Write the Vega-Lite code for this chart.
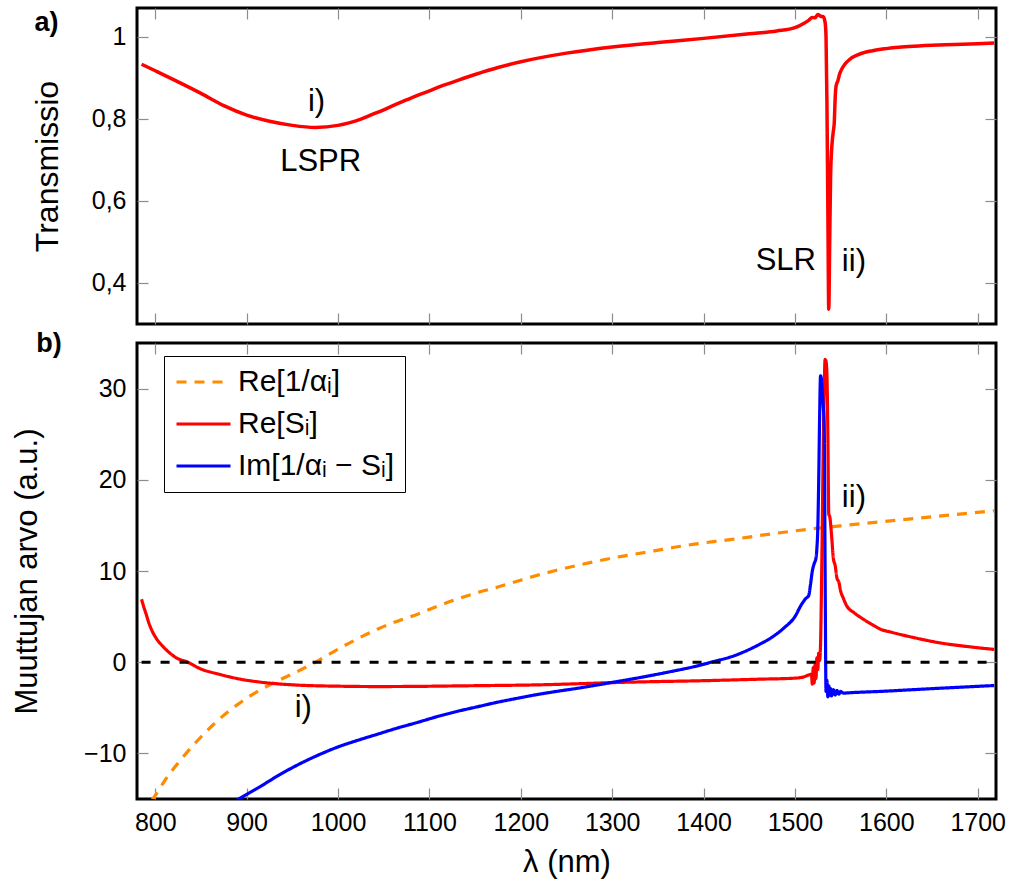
{
  "$schema": "https://vega.github.io/schema/vega-lite/v6.json",
  "background": "white",
  "padding": {"left": 10, "top": 5, "right": 5, "bottom": 5},
  "config": {
    "font": "Liberation Sans",
    "view": {"stroke": "black", "strokeWidth": 3},
    "axis": {"grid": false, "domain": false, "ticks": true, "tickColor": "#8c8c8c", "tickWidth": 1.2, "tickSize": -11, "labelFontSize": 25, "labelColor": "black", "labelPadding": 22, "titleFontSize": 31, "titleFontWeight": "normal", "titleColor": "black", "labelFont": "Liberation Sans", "titleFont": "Liberation Sans"},
    "text": {"font": "Liberation Sans", "fontSize": 31}
  },
  "spacing": 19,
  "bounds": "flush",
  "vconcat": [
    {
      "width": 859,
      "height": 316,
      "layer": [
        {
          "data": {"values": [
            {"lam": 785, "T": 0.933}, {"lam": 800, "T": 0.917}, {"lam": 825, "T": 0.890}, {"lam": 850, "T": 0.862},
            {"lam": 875, "T": 0.832}, {"lam": 900, "T": 0.809}, {"lam": 925, "T": 0.794}, {"lam": 950, "T": 0.784},
            {"lam": 975, "T": 0.779}, {"lam": 1000, "T": 0.784}, {"lam": 1012, "T": 0.790}, {"lam": 1025, "T": 0.799},
            {"lam": 1037, "T": 0.810}, {"lam": 1050, "T": 0.822}, {"lam": 1062, "T": 0.834}, {"lam": 1075, "T": 0.846},
            {"lam": 1087, "T": 0.857}, {"lam": 1100, "T": 0.868}, {"lam": 1112, "T": 0.879}, {"lam": 1125, "T": 0.889},
            {"lam": 1150, "T": 0.908},
            {"lam": 1175, "T": 0.925}, {"lam": 1200, "T": 0.939}, {"lam": 1250, "T": 0.960}, {"lam": 1300, "T": 0.975},
            {"lam": 1350, "T": 0.986}, {"lam": 1400, "T": 0.996}, {"lam": 1450, "T": 1.007}, {"lam": 1480, "T": 1.014},
            {"lam": 1500, "T": 1.022}, {"lam": 1510, "T": 1.033}, {"lam": 1515, "T": 1.040}, {"lam": 1519, "T": 1.047},
            {"lam": 1522, "T": 1.046}, {"lam": 1525, "T": 1.054}, {"lam": 1528, "T": 1.050}, {"lam": 1531, "T": 1.049},
            {"lam": 1533, "T": 1.035}, {"lam": 1534, "T": 1.0}, {"lam": 1535, "T": 0.84}, {"lam": 1536, "T": 0.58},
            {"lam": 1537, "T": 0.336}, {"lam": 1538, "T": 0.50}, {"lam": 1539, "T": 0.66}, {"lam": 1540, "T": 0.72},
            {"lam": 1541, "T": 0.75}, {"lam": 1542, "T": 0.77}, {"lam": 1543, "T": 0.79}, {"lam": 1544, "T": 0.85},
            {"lam": 1545, "T": 0.88}, {"lam": 1547, "T": 0.893}, {"lam": 1549, "T": 0.91}, {"lam": 1551, "T": 0.92},
            {"lam": 1555, "T": 0.934}, {"lam": 1560, "T": 0.945}, {"lam": 1570, "T": 0.957}, {"lam": 1585, "T": 0.966},
            {"lam": 1600, "T": 0.971}, {"lam": 1625, "T": 0.976}, {"lam": 1650, "T": 0.979}, {"lam": 1675, "T": 0.981},
            {"lam": 1700, "T": 0.983}, {"lam": 1718, "T": 0.985}
          ]},
          "mark": {"type": "line", "color": "#ff0000", "strokeWidth": 3.5, "clip": true, "interpolate": "monotone"},
          "encoding": {
            "x": {"field": "lam", "type": "quantitative", "scale": {"domain": [780, 1720], "nice": false, "zero": false},
                  "axis": {"orient": "bottom", "values": [800, 900, 1000, 1100, 1200, 1300, 1400, 1500, 1600, 1700], "labels": false, "title": null}},
            "y": {"field": "T", "type": "quantitative", "scale": {"domain": [0.3, 1.07], "nice": false, "zero": false},
                  "axis": {"orient": "left", "values": [0.4, 0.6, 0.8, 1], "labelExpr": "datum.value == 1 ? '1' : replace(format(datum.value, '.1f'), '.', ',')", "title": "Transmissio", "titleFontSize": 32, "titlePadding": 27}}
          }
        },
        {
          "data": {"values": [
            {"lam": 976.5, "T": 0.842, "label": "i)"},
            {"lam": 981, "T": 0.695, "label": "LSPR"},
            {"lam": 1490, "T": 0.453, "label": "SLR"},
            {"lam": 1564.5, "T": 0.45, "label": "ii)"}
          ]},
          "mark": {"type": "text", "fontSize": 31, "baseline": "middle", "align": "center"},
          "encoding": {
            "x": {"field": "lam", "type": "quantitative", "axis": {"orient": "top", "values": [800, 900, 1000, 1100, 1200, 1300, 1400, 1500, 1600, 1700], "labels": false, "title": null}},
            "y": {"field": "T", "type": "quantitative", "axis": {"orient": "right", "values": [0.4, 0.6, 0.8, 1], "labels": false, "title": null}},
            "text": {"field": "label"}
          }
        },
        {
          "data": {"values": [{"lam": 681, "T": 1.033, "label": "a)"}]},
          "mark": {"type": "text", "fontSize": 27, "fontWeight": "bold", "baseline": "middle", "align": "center"},
          "encoding": {
            "x": {"field": "lam", "type": "quantitative", "axis": null},
            "y": {"field": "T", "type": "quantitative", "axis": null},
            "text": {"field": "label"}
          }
        }
      ]
    },
    {
      "width": 859,
      "height": 456,
      "layer": [
        {
          "data": {"values": [
            {"lam": 785, "series": "Re[1/αᵢ]", "v": -16.8}, {"lam": 800, "series": "Re[1/αᵢ]", "v": -14.6},
            {"lam": 813, "series": "Re[1/αᵢ]", "v": -12.6}, {"lam": 827, "series": "Re[1/αᵢ]", "v": -10.8},
            {"lam": 850, "series": "Re[1/αᵢ]", "v": -8.2}, {"lam": 870, "series": "Re[1/αᵢ]", "v": -6.25},
            {"lam": 890, "series": "Re[1/αᵢ]", "v": -4.65}, {"lam": 913, "series": "Re[1/αᵢ]", "v": -3.14},
            {"lam": 935, "series": "Re[1/αᵢ]", "v": -2.0}, {"lam": 957, "series": "Re[1/αᵢ]", "v": -0.95},
            {"lam": 978, "series": "Re[1/αᵢ]", "v": 0.15}, {"lam": 1000, "series": "Re[1/αᵢ]", "v": 1.43},
            {"lam": 1020, "series": "Re[1/αᵢ]", "v": 2.5}, {"lam": 1043, "series": "Re[1/αᵢ]", "v": 3.62},
            {"lam": 1065, "series": "Re[1/αᵢ]", "v": 4.5}, {"lam": 1087, "series": "Re[1/αᵢ]", "v": 5.27},
            {"lam": 1108, "series": "Re[1/αᵢ]", "v": 6.1}, {"lam": 1130, "series": "Re[1/αᵢ]", "v": 6.91},
            {"lam": 1150, "series": "Re[1/αᵢ]", "v": 7.55}, {"lam": 1173, "series": "Re[1/αᵢ]", "v": 8.19},
            {"lam": 1195, "series": "Re[1/αᵢ]", "v": 8.85}, {"lam": 1216, "series": "Re[1/αᵢ]", "v": 9.47},
            {"lam": 1238, "series": "Re[1/αᵢ]", "v": 10.05}, {"lam": 1260, "series": "Re[1/αᵢ]", "v": 10.57},
            {"lam": 1282, "series": "Re[1/αᵢ]", "v": 11.05}, {"lam": 1303, "series": "Re[1/αᵢ]", "v": 11.48},
            {"lam": 1325, "series": "Re[1/αᵢ]", "v": 11.85}, {"lam": 1346, "series": "Re[1/αᵢ]", "v": 12.21},
            {"lam": 1368, "series": "Re[1/αᵢ]", "v": 12.6}, {"lam": 1390, "series": "Re[1/αᵢ]", "v": 12.94},
            {"lam": 1411, "series": "Re[1/αᵢ]", "v": 13.22}, {"lam": 1433, "series": "Re[1/αᵢ]", "v": 13.49},
            {"lam": 1462, "series": "Re[1/αᵢ]", "v": 13.9}, {"lam": 1500, "series": "Re[1/αᵢ]", "v": 14.4},
            {"lam": 1550, "series": "Re[1/αᵢ]", "v": 14.95}, {"lam": 1594, "series": "Re[1/αᵢ]", "v": 15.4},
            {"lam": 1650, "series": "Re[1/αᵢ]", "v": 15.95}, {"lam": 1718, "series": "Re[1/αᵢ]", "v": 16.6},

            {"lam": 785, "series": "Re[Sᵢ]", "v": 6.9}, {"lam": 787, "series": "Re[Sᵢ]", "v": 6.2},
            {"lam": 790, "series": "Re[Sᵢ]", "v": 5.27}, {"lam": 793, "series": "Re[Sᵢ]", "v": 4.3},
            {"lam": 796.5, "series": "Re[Sᵢ]", "v": 3.44}, {"lam": 803, "series": "Re[Sᵢ]", "v": 2.34},
            {"lam": 809.5, "series": "Re[Sᵢ]", "v": 1.61}, {"lam": 816, "series": "Re[Sᵢ]", "v": 1.0},
            {"lam": 822.5, "series": "Re[Sᵢ]", "v": 0.51}, {"lam": 835.5, "series": "Re[Sᵢ]", "v": 0.0},
            {"lam": 850, "series": "Re[Sᵢ]", "v": -0.75}, {"lam": 870, "series": "Re[Sᵢ]", "v": -1.32},
            {"lam": 890, "series": "Re[Sᵢ]", "v": -1.8}, {"lam": 913, "series": "Re[Sᵢ]", "v": -2.16},
            {"lam": 935, "series": "Re[Sᵢ]", "v": -2.38}, {"lam": 957, "series": "Re[Sᵢ]", "v": -2.52},
            {"lam": 1000, "series": "Re[Sᵢ]", "v": -2.63}, {"lam": 1043, "series": "Re[Sᵢ]", "v": -2.67},
            {"lam": 1087, "series": "Re[Sᵢ]", "v": -2.65}, {"lam": 1130, "series": "Re[Sᵢ]", "v": -2.6},
            {"lam": 1173, "series": "Re[Sᵢ]", "v": -2.55}, {"lam": 1216, "series": "Re[Sᵢ]", "v": -2.49},
            {"lam": 1260, "series": "Re[Sᵢ]", "v": -2.37}, {"lam": 1303, "series": "Re[Sᵢ]", "v": -2.23},
            {"lam": 1346, "series": "Re[Sᵢ]", "v": -2.13}, {"lam": 1390, "series": "Re[Sᵢ]", "v": -2.05},
            {"lam": 1430, "series": "Re[Sᵢ]", "v": -1.95}, {"lam": 1462, "series": "Re[Sᵢ]", "v": -1.86},
            {"lam": 1500, "series": "Re[Sᵢ]", "v": -1.75}, {"lam": 1510, "series": "Re[Sᵢ]", "v": -1.6},
            {"lam": 1515, "series": "Re[Sᵢ]", "v": -1.4}, {"lam": 1518, "series": "Re[Sᵢ]", "v": -1.3},
            {"lam": 1519, "series": "Re[Sᵢ]", "v": -2.4}, {"lam": 1520, "series": "Re[Sᵢ]", "v": -0.6},
            {"lam": 1521, "series": "Re[Sᵢ]", "v": -2.3}, {"lam": 1522, "series": "Re[Sᵢ]", "v": -0.3},
            {"lam": 1523, "series": "Re[Sᵢ]", "v": -1.8}, {"lam": 1524, "series": "Re[Sᵢ]", "v": 0.5},
            {"lam": 1525, "series": "Re[Sᵢ]", "v": -0.8}, {"lam": 1526, "series": "Re[Sᵢ]", "v": 1.0},
            {"lam": 1527, "series": "Re[Sᵢ]", "v": 0.2}, {"lam": 1528, "series": "Re[Sᵢ]", "v": 2.0},
            {"lam": 1529, "series": "Re[Sᵢ]", "v": 8.0}, {"lam": 1530, "series": "Re[Sᵢ]", "v": 15.8},
            {"lam": 1531, "series": "Re[Sᵢ]", "v": 24}, {"lam": 1532, "series": "Re[Sᵢ]", "v": 30},
            {"lam": 1533, "series": "Re[Sᵢ]", "v": 33.2}, {"lam": 1534, "series": "Re[Sᵢ]", "v": 33.0},
            {"lam": 1535, "series": "Re[Sᵢ]", "v": 31.5}, {"lam": 1536, "series": "Re[Sᵢ]", "v": 25},
            {"lam": 1537, "series": "Re[Sᵢ]", "v": 16.2}, {"lam": 1538, "series": "Re[Sᵢ]", "v": 16.0},
            {"lam": 1540, "series": "Re[Sᵢ]", "v": 14.0}, {"lam": 1542, "series": "Re[Sᵢ]", "v": 11.4},
            {"lam": 1544, "series": "Re[Sᵢ]", "v": 10.6}, {"lam": 1546, "series": "Re[Sᵢ]", "v": 9.2},
            {"lam": 1548, "series": "Re[Sᵢ]", "v": 8.8}, {"lam": 1550, "series": "Re[Sᵢ]", "v": 7.8},
            {"lam": 1553, "series": "Re[Sᵢ]", "v": 7.0}, {"lam": 1556, "series": "Re[Sᵢ]", "v": 6.3},
            {"lam": 1565, "series": "Re[Sᵢ]", "v": 5.4}, {"lam": 1572, "series": "Re[Sᵢ]", "v": 4.9},
            {"lam": 1585, "series": "Re[Sᵢ]", "v": 4.1}, {"lam": 1594, "series": "Re[Sᵢ]", "v": 3.6},
            {"lam": 1605, "series": "Re[Sᵢ]", "v": 3.3}, {"lam": 1630, "series": "Re[Sᵢ]", "v": 2.7},
            {"lam": 1660, "series": "Re[Sᵢ]", "v": 2.1}, {"lam": 1690, "series": "Re[Sᵢ]", "v": 1.7},
            {"lam": 1718, "series": "Re[Sᵢ]", "v": 1.4},

            {"lam": 870, "series": "Im[1/αᵢ − Sᵢ]", "v": -16.3}, {"lam": 880, "series": "Im[1/αᵢ − Sᵢ]", "v": -15.7},
            {"lam": 894, "series": "Im[1/αᵢ − Sᵢ]", "v": -14.85}, {"lam": 913, "series": "Im[1/αᵢ − Sᵢ]", "v": -13.75},
            {"lam": 935, "series": "Im[1/αᵢ − Sᵢ]", "v": -12.4}, {"lam": 957, "series": "Im[1/αᵢ − Sᵢ]", "v": -11.2},
            {"lam": 978, "series": "Im[1/αᵢ − Sᵢ]", "v": -10.2}, {"lam": 1000, "series": "Im[1/αᵢ − Sᵢ]", "v": -9.29},
            {"lam": 1022, "series": "Im[1/αᵢ − Sᵢ]", "v": -8.55}, {"lam": 1043, "series": "Im[1/αᵢ − Sᵢ]", "v": -7.9},
            {"lam": 1065, "series": "Im[1/αᵢ − Sᵢ]", "v": -7.22}, {"lam": 1087, "series": "Im[1/αᵢ − Sᵢ]", "v": -6.6},
            {"lam": 1108, "series": "Im[1/αᵢ − Sᵢ]", "v": -5.98}, {"lam": 1130, "series": "Im[1/αᵢ − Sᵢ]", "v": -5.4},
            {"lam": 1152, "series": "Im[1/αᵢ − Sᵢ]", "v": -4.9}, {"lam": 1173, "series": "Im[1/αᵢ − Sᵢ]", "v": -4.42},
            {"lam": 1195, "series": "Im[1/αᵢ − Sᵢ]", "v": -3.98}, {"lam": 1216, "series": "Im[1/αᵢ − Sᵢ]", "v": -3.58},
            {"lam": 1238, "series": "Im[1/αᵢ − Sᵢ]", "v": -3.22}, {"lam": 1260, "series": "Im[1/αᵢ − Sᵢ]", "v": -2.89},
            {"lam": 1282, "series": "Im[1/αᵢ − Sᵢ]", "v": -2.53}, {"lam": 1303, "series": "Im[1/αᵢ − Sᵢ]", "v": -2.16},
            {"lam": 1325, "series": "Im[1/αᵢ − Sᵢ]", "v": -1.78}, {"lam": 1346, "series": "Im[1/αᵢ − Sᵢ]", "v": -1.39},
            {"lam": 1368, "series": "Im[1/αᵢ − Sᵢ]", "v": -0.95}, {"lam": 1390, "series": "Im[1/αᵢ − Sᵢ]", "v": -0.48},
            {"lam": 1411, "series": "Im[1/αᵢ − Sᵢ]", "v": 0.07}, {"lam": 1433, "series": "Im[1/αᵢ − Sᵢ]", "v": 0.69},
            {"lam": 1450, "series": "Im[1/αᵢ − Sᵢ]", "v": 1.4}, {"lam": 1462, "series": "Im[1/αᵢ − Sᵢ]", "v": 2.0},
            {"lam": 1475, "series": "Im[1/αᵢ − Sᵢ]", "v": 2.75}, {"lam": 1488, "series": "Im[1/αᵢ − Sᵢ]", "v": 3.76},
            {"lam": 1500, "series": "Im[1/αᵢ − Sᵢ]", "v": 5.0}, {"lam": 1507, "series": "Im[1/αᵢ − Sᵢ]", "v": 6.3},
            {"lam": 1512, "series": "Im[1/αᵢ − Sᵢ]", "v": 7.0}, {"lam": 1515, "series": "Im[1/αᵢ − Sᵢ]", "v": 7.3},
            {"lam": 1517, "series": "Im[1/αᵢ − Sᵢ]", "v": 8.5}, {"lam": 1519, "series": "Im[1/αᵢ − Sᵢ]", "v": 10.0},
            {"lam": 1521, "series": "Im[1/αᵢ − Sᵢ]", "v": 10.8}, {"lam": 1523, "series": "Im[1/αᵢ − Sᵢ]", "v": 11.4},
            {"lam": 1524, "series": "Im[1/αᵢ − Sᵢ]", "v": 12.5}, {"lam": 1525, "series": "Im[1/αᵢ − Sᵢ]", "v": 14.7},
            {"lam": 1526, "series": "Im[1/αᵢ − Sᵢ]", "v": 20}, {"lam": 1527, "series": "Im[1/αᵢ − Sᵢ]", "v": 27},
            {"lam": 1528, "series": "Im[1/αᵢ − Sᵢ]", "v": 31.4}, {"lam": 1529, "series": "Im[1/αᵢ − Sᵢ]", "v": 31.0},
            {"lam": 1530, "series": "Im[1/αᵢ − Sᵢ]", "v": 29.5}, {"lam": 1531, "series": "Im[1/αᵢ − Sᵢ]", "v": 28},
            {"lam": 1532, "series": "Im[1/αᵢ − Sᵢ]", "v": 26}, {"lam": 1533, "series": "Im[1/αᵢ − Sᵢ]", "v": 10},
            {"lam": 1534, "series": "Im[1/αᵢ − Sᵢ]", "v": -3.2}, {"lam": 1535, "series": "Im[1/αᵢ − Sᵢ]", "v": -2.0},
            {"lam": 1536, "series": "Im[1/αᵢ − Sᵢ]", "v": -3.8}, {"lam": 1537, "series": "Im[1/αᵢ − Sᵢ]", "v": -2.6},
            {"lam": 1538, "series": "Im[1/αᵢ − Sᵢ]", "v": -3.6}, {"lam": 1539, "series": "Im[1/αᵢ − Sᵢ]", "v": -2.9},
            {"lam": 1540, "series": "Im[1/αᵢ − Sᵢ]", "v": -3.7}, {"lam": 1542, "series": "Im[1/αᵢ − Sᵢ]", "v": -3.0},
            {"lam": 1544, "series": "Im[1/αᵢ − Sᵢ]", "v": -3.6}, {"lam": 1546, "series": "Im[1/αᵢ − Sᵢ]", "v": -3.1},
            {"lam": 1548, "series": "Im[1/αᵢ − Sᵢ]", "v": -3.5}, {"lam": 1550, "series": "Im[1/αᵢ − Sᵢ]", "v": -3.2},
            {"lam": 1553, "series": "Im[1/αᵢ − Sᵢ]", "v": -3.4}, {"lam": 1557, "series": "Im[1/αᵢ − Sᵢ]", "v": -3.37},
            {"lam": 1594, "series": "Im[1/αᵢ − Sᵢ]", "v": -3.2}, {"lam": 1650, "series": "Im[1/αᵢ − Sᵢ]", "v": -2.9},
            {"lam": 1718, "series": "Im[1/αᵢ − Sᵢ]", "v": -2.56}
          ]},
          "mark": {"type": "line", "strokeWidth": 3.2, "clip": true, "interpolate": "monotone"},
          "encoding": {
            "x": {"field": "lam", "type": "quantitative", "scale": {"domain": [780, 1720], "nice": false, "zero": false},
                  "axis": {"orient": "bottom", "values": [800, 900, 1000, 1100, 1200, 1300, 1400, 1500, 1600, 1700], "format": "d", "title": "λ (nm)", "titlePadding": 12}},
            "y": {"field": "v", "type": "quantitative", "scale": {"domain": [-15, 35], "nice": false, "zero": false},
                  "axis": {"orient": "left", "values": [-10, 0, 10, 20, 30], "format": "d", "title": "Muuttujan arvo (a.u.)", "titlePadding": 40}},
            "color": {"field": "series", "type": "nominal",
                      "scale": {"domain": ["Re[1/αᵢ]", "Re[Sᵢ]", "Im[1/αᵢ − Sᵢ]"], "range": ["#ff8c00", "#ff0000", "#0000ff"]},
                      "legend": {"title": null, "orient": "none", "legendX": 27, "legendY": 348, "symbolType": "M-1,0H3", "symbolSize": 729, "symbolStrokeWidth": 3, "labelFontSize": 30, "labelOffset": 33, "rowPadding": 12, "padding": 11, "strokeColor": "black", "fillColor": "white", "labelLimit": 500, "cornerRadius": 0}},
            "strokeDash": {"field": "series", "type": "nominal",
                      "scale": {"domain": ["Re[1/αᵢ]", "Re[Sᵢ]", "Im[1/αᵢ − Sᵢ]"], "range": [[10, 8], [1, 0], [1, 0]]},
                      "legend": {"title": null, "orient": "none", "legendX": 27, "legendY": 348, "symbolType": "M-1,0H3", "symbolSize": 729, "symbolStrokeWidth": 3, "labelFontSize": 30, "labelOffset": 33, "rowPadding": 12, "padding": 11, "strokeColor": "black", "fillColor": "white", "labelLimit": 500, "cornerRadius": 0}}
          }
        },
        {
          "data": {"values": [{"lam": 785, "v": 0}, {"lam": 1716, "v": 0}]},
          "mark": {"type": "line", "color": "black", "strokeWidth": 3, "strokeDash": [9, 10]},
          "encoding": {
            "x": {"field": "lam", "type": "quantitative", "axis": null},
            "y": {"field": "v", "type": "quantitative", "axis": null}
          }
        },
        {
          "data": {"values": [
            {"lam": 962, "v": -5.0, "label": "i)"},
            {"lam": 1564.5, "v": 18.0, "label": "ii)"}
          ]},
          "mark": {"type": "text", "fontSize": 31, "baseline": "middle", "align": "center"},
          "encoding": {
            "x": {"field": "lam", "type": "quantitative", "axis": {"orient": "top", "values": [800, 900, 1000, 1100, 1200, 1300, 1400, 1500, 1600, 1700], "labels": false, "title": null}},
            "y": {"field": "v", "type": "quantitative", "axis": {"orient": "right", "values": [-10, 0, 10, 20, 30], "labels": false, "title": null}},
            "text": {"field": "label"}
          }
        },
        {
          "data": {"values": [{"lam": 683.6, "v": 34.9, "label": "b)"}]},
          "mark": {"type": "text", "fontSize": 27, "fontWeight": "bold", "baseline": "middle", "align": "center"},
          "encoding": {
            "x": {"field": "lam", "type": "quantitative", "axis": null},
            "y": {"field": "v", "type": "quantitative", "axis": null},
            "text": {"field": "label"}
          }
        }
      ]
    }
  ]
}
